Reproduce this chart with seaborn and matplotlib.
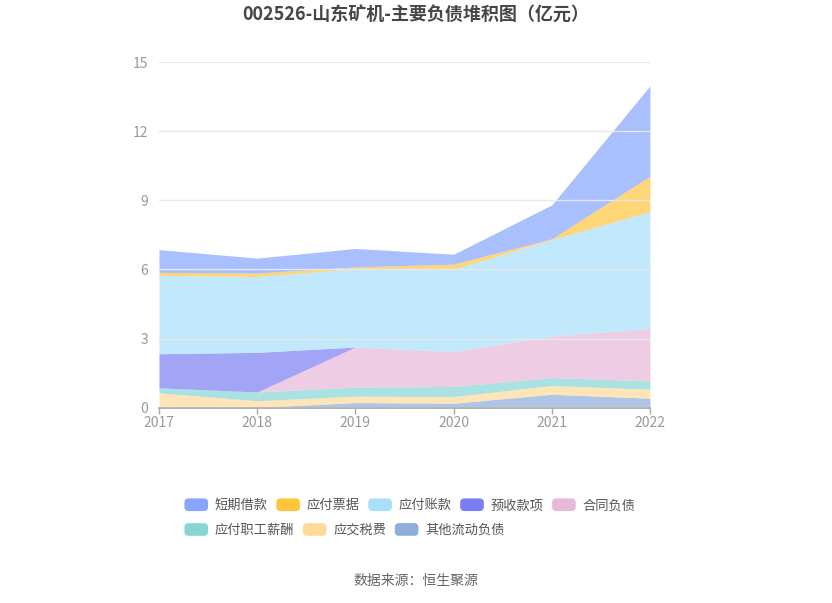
import numpy as np
import pandas as pd
import seaborn as sns
import matplotlib.pyplot as plt
from matplotlib.patches import FancyBboxPatch
from matplotlib.legend_handler import HandlerPatch

years = [2017, 2018, 2019, 2020, 2021, 2022]

# 亿元, stacked bottom -> top
other_current = [0.01, 0.01, 0.22, 0.19, 0.58, 0.41]
taxes_payable = [0.63, 0.29, 0.28, 0.29, 0.38, 0.39]
staff_payable = [0.22, 0.38, 0.39, 0.44, 0.35, 0.36]
contract_liab = [0.00, 0.00, 1.74, 1.52, 1.80, 2.27]
advance_recv = [1.48, 1.72, 0.00, 0.00, 0.00, 0.00]
accounts_payable = [3.40, 3.29, 3.40, 3.57, 4.19, 5.08]
notes_payable = [0.13, 0.15, 0.08, 0.22, 0.03, 1.54]
short_loans = [0.99, 0.65, 0.80, 0.43, 1.47, 3.92]

series_names = ["其他流动负债", "应交税费", "应付职工薪酬", "合同负债",
                "预收款项", "应付账款", "应付票据", "短期借款"]
series_vals = [other_current, taxes_payable, staff_payable, contract_liab,
               advance_recv, accounts_payable, notes_payable, short_loans]
colors = {
    "短期借款": "#86a5fd",
    "应付票据": "#ffc53d",
    "应付账款": "#a9dffa",
    "预收款项": "#7b7ef3",
    "合同负债": "#e8b8d9",
    "应付职工薪酬": "#86d6d6",
    "应交税费": "#ffd999",
    "其他流动负债": "#8daddb",
}

df = pd.DataFrame(dict(zip(series_names, series_vals)), index=years)

sns.set_theme(style="white")
plt.rcParams['font.family'] = ['Noto Sans CJK SC', 'DejaVu Sans']

fig = plt.figure(figsize=(8.32, 6.03), dpi=100)
ax = fig.add_axes([0.1911, 0.324, 0.5901, 0.573])

ax.stackplot(df.index, [df[c].values for c in series_names],
             colors=[colors[c] for c in series_names], alpha=0.7, linewidth=0)

ax.set_xlim(2017, 2022)
ax.set_ylim(0, 15)
ax.set_yticks(np.arange(0, 16, 3))
ax.set_xticks(years)
ax.set_xticklabels([str(y) for y in years])
ax.yaxis.grid(True, color="#e6e8ef", linewidth=1)
ax.set_axisbelow(False)
for s in ["top", "right", "left"]:
    ax.spines[s].set_visible(False)
ax.spines["bottom"].set_color("#aaaaaa")
ax.tick_params(axis="x", colors="#999999", labelsize=10, length=4, width=1,
               bottom=True, pad=2)
ax.tick_params(axis="y", colors="#999999", labelsize=10, length=0, pad=8)
ax.tick_params(axis="x", color="#aaaaaa")

fig.text(0.5, 0.974, "002526-山东矿机-主要负债堆积图（亿元）", ha="center", va="center",
         fontsize=13, fontweight="bold", color="#464646")
fig.text(0.5, 0.036, "数据来源：恒生聚源", ha="center", va="center",
         fontsize=10, color="#666666")


class RoundHandler(HandlerPatch):
    def create_artists(self, legend, orig_handle, xdescent, ydescent,
                       width, height, fontsize, trans):
        p = FancyBboxPatch((-xdescent + 1, -ydescent), width - 2, height,
                           boxstyle="round,pad=0,rounding_size=3",
                           facecolor=orig_handle.get_facecolor(),
                           edgecolor="none", transform=trans)
        return [p]


def make_handles(names):
    return [FancyBboxPatch((0, 0), 1, 1, facecolor=colors[n]) for n in names]


row1 = ["短期借款", "应付票据", "应付账款", "预收款项", "合同负债"]
row2 = ["应付职工薪酬", "应交税费", "其他流动负债"]
common = dict(frameon=False, fontsize=9.5, handlelength=2.0, handleheight=1.1,
              handletextpad=0.4, columnspacing=0.55, labelcolor="#555555",
              borderaxespad=0, borderpad=0, loc="center left")
leg1 = fig.legend(make_handles(row1), row1, ncol=5, bbox_to_anchor=(0.220, 0.162),
                  handler_map={FancyBboxPatch: RoundHandler()}, **common)
leg2 = fig.legend(make_handles(row2), row2, ncol=3, bbox_to_anchor=(0.220, 0.121),
                  handler_map={FancyBboxPatch: RoundHandler()}, **common)

fig.savefig("out.png", dpi=100)
